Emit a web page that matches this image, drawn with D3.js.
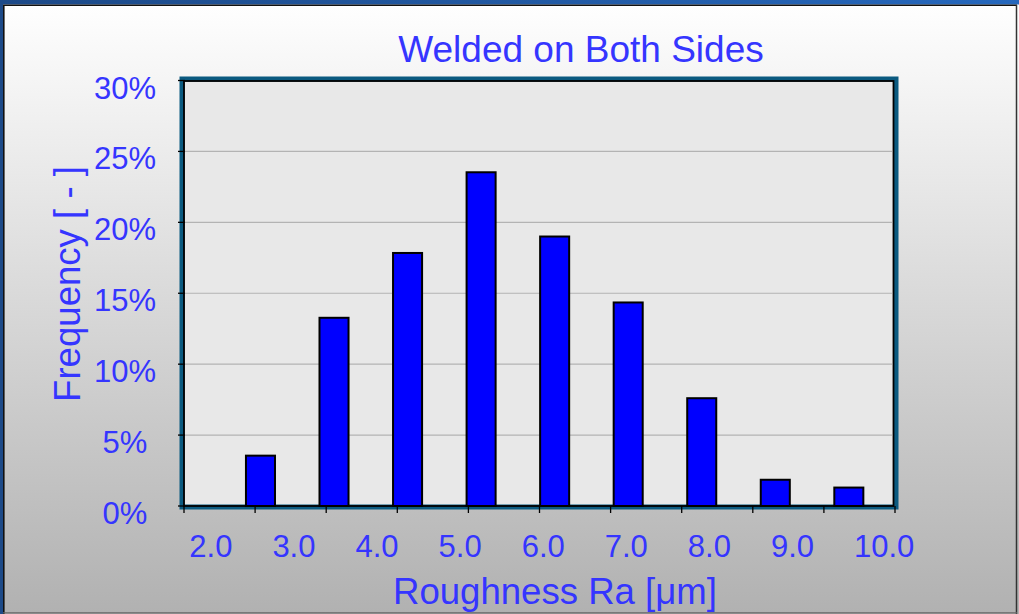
<!DOCTYPE html>
<html>
<head>
<meta charset="utf-8">
<script src="https://cdn.jsdelivr.net/npm/d3@7"></script>
<style>
  body { margin: 0; padding: 0; overflow: hidden; }
  svg { display: block; }
  text { font-family: "Liberation Sans", Arial, sans-serif; fill: #3535ff; }
</style>
</head>
<body>
<svg id="chart"></svg>
<script>
const binCenters = ["2.5", "3.5", "4.5", "5.5", "6.5", "7.5", "8.5", "9.5", "10.5"];
const frequency = [0.0355, 0.1327, 0.1784, 0.2353, 0.1900, 0.1435, 0.0760, 0.0185, 0.0130];
const xTickLabels = ["2.0", "3.0", "4.0", "5.0", "6.0", "7.0", "8.0", "9.0", "10.0"];
const yTicks = [0, 0.05, 0.10, 0.15, 0.20, 0.25, 0.30];

const width = 1019, height = 614;
const plot = { left: 184, right: 895, top: 80.5, bottom: 506 };

const svg = d3.select("#chart").attr("width", width).attr("height", height);

const defs = svg.append("defs");
const bg = defs.append("linearGradient").attr("id", "bg").attr("x1", 0).attr("y1", 0).attr("x2", 0).attr("y2", 1);
bg.append("stop").attr("offset", "0%").attr("stop-color", "#ffffff");
bg.append("stop").attr("offset", "100%").attr("stop-color", "#b1b1b1");
const bar = defs.append("linearGradient").attr("id", "topbar").attr("x1", 0).attr("y1", 0).attr("x2", 1).attr("y2", 0);
bar.append("stop").attr("offset", "0%").attr("stop-color", "#1d4a88");
bar.append("stop").attr("offset", "100%").attr("stop-color", "#2668bd");

svg.append("rect").attr("width", width).attr("height", height).attr("fill", "url(#bg)");
// slide frame
svg.append("rect").attr("x", 0).attr("y", 0).attr("width", width).attr("height", 4.5).attr("fill", "url(#topbar)");
svg.append("rect").attr("x", 0).attr("y", 0).attr("width", 3).attr("height", height).attr("fill", "#1d4a88");
svg.append("line").attr("x1", 3).attr("x2", 1017).attr("y1", 5.3).attr("y2", 5.3).attr("stroke", "#111").attr("stroke-width", 1.6);
svg.append("line").attr("x1", 3.8).attr("x2", 3.8).attr("y1", 5).attr("y2", height).attr("stroke", "#111").attr("stroke-width", 1.6);
svg.append("line").attr("x1", 1016.5).attr("x2", 1016.5).attr("y1", 5).attr("y2", height).attr("stroke", "#333").attr("stroke-width", 1.5);
svg.append("line").attr("x1", 3).attr("x2", 1017).attr("y1", 612.8).attr("y2", 612.8).attr("stroke", "#666").attr("stroke-width", 1.2);

const y = d3.scaleLinear().domain([0, 0.30]).range([plot.bottom, plot.top]);
const xTick = d3.scaleLinear().domain([0, 10]).range([plot.left, plot.right]);
const xBand = d3.scaleBand().domain(binCenters).range([223.7, 885.6]).paddingInner(0.578).paddingOuter(0.289);
const xLabel = d3.scaleLinear().domain([2, 10]).range([189.3, 854]);

// plot area frame
svg.append("rect").attr("x", 182).attr("y", 79).attr("width", 714).attr("height", 428)
  .attr("fill", "#e8e8e8").attr("stroke", "#0b5a80").attr("stroke-width", 5);
svg.append("rect").attr("x", 184).attr("y", 81).attr("width", 709.5).attr("height", 425)
  .attr("fill", "none").attr("stroke", "#000").attr("stroke-width", 1.8);

svg.append("g").selectAll("line").data(yTicks.filter(d => d > 0 && d < 0.30)).join("line")
  .attr("x1", 185).attr("x2", 892).attr("y1", d => y(d)).attr("y2", d => y(d))
  .attr("stroke", "#b3b3b3").attr("stroke-width", 1.2);

// y ticks
svg.append("g").selectAll("line").data(yTicks).join("line")
  .attr("x1", 178).attr("x2", 185).attr("y1", d => y(d)).attr("y2", d => y(d))
  .attr("stroke", "#000").attr("stroke-width", 1.3);
// x ticks
svg.append("g").selectAll("line").data(d3.range(0, 11)).join("line")
  .attr("x1", d => xTick(d)).attr("x2", d => xTick(d)).attr("y1", plot.bottom).attr("y2", 513)
  .attr("stroke", "#000").attr("stroke-width", 1.3);

svg.append("g").selectAll("rect").data(frequency).join("rect")
  .attr("x", (d, i) => xBand(binCenters[i]) + 1)
  .attr("width", xBand.bandwidth() - 2)
  .attr("y", d => y(d))
  .attr("height", d => y(0) - y(d))
  .attr("fill", "#0000ff").attr("stroke", "#000").attr("stroke-width", 2);

svg.append("g").selectAll("text").data(yTicks).join("text")
  .attr("x", 125).attr("y", d => y(d) + 18)
  .attr("text-anchor", "middle").style("font-size", "31px")
  .text(d => Math.round(d * 100) + "%");

svg.append("g").selectAll("text").data(xTickLabels).join("text")
  .attr("x", d => xLabel(+d)).attr("y", 557)
  .attr("text-anchor", "start").style("font-size", "31px")
  .text(d => d);

svg.append("text").attr("x", 581).attr("y", 62).attr("text-anchor", "middle")
  .style("font-size", "37px").text("Welded on Both Sides");

svg.append("text").attr("x", 555).attr("y", 604).attr("text-anchor", "middle")
  .style("font-size", "36.6px").text("Roughness Ra [μm]");

svg.append("text").attr("transform", "translate(80,284) rotate(-90)").attr("text-anchor", "middle")
  .style("font-size", "36.6px").text("Frequency [ - ]");
</script>
</body>
</html>
